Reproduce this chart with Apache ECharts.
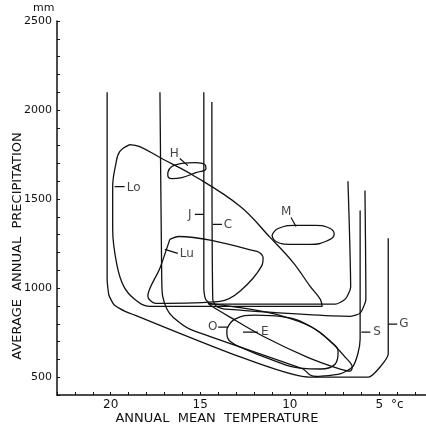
<!DOCTYPE html>
<html>
	<head>
		<meta charset="utf-8">
		<title></title>
		<script src='https://cdn.jsdelivr.net/npm/echarts@6/dist/echarts.min.js'></script>
		<style>
			body{ margin:0; background:#fff; }
			#chart{
				width: 426px;
				height: 428px;
			}
		</style>
	</head>
	<body>
		<div id="chart"></div>
		<script>
            // tick labels
            const xLabels = [20, 15, 10, 5];
            const yLabels = [500, 1000, 1500, 2000, 2500];

            // [annual mean temperature (°C), average annual precipitation (mm)]
            // open envelopes
            const curveG = [[20.2,2100],[20.2,1050],[20.1,960],[19.8,905],[19.2,870],[9.0,501],[5.6,500],[4.5,630],[4.5,1280]];
            const curveS = [[17.25,2100],[17.15,1050],[17.1,955],[16.85,880],[16.5,835],[15.58,770],[9.26,546],[8.86,512],[8.5,504],[7.2,518],[6.5,557],[6.2,630],[6.07,714],[6.07,1436]];
            const curveJ = [[14.8,2100],[14.8,994],[14.7,938],[14.35,910],[7.46,910],[6.9,938],[6.6,1005],[6.75,1600]];
            const curveC = [[14.35,2045],[14.3,938],[14.1,898],[13.6,882],[6.6,842],[6.07,860],[5.75,938],[5.75,994],[5.8,1548]];
            // closed ranges
            const blobLo = [[18.94,1806],[18.38,1795],[17.1,1725],[15.47,1638],[12.78,1460],[11.1,1285],[9.82,1145],[8.86,1010],[8.3,938],[8.19,898],[17.82,898],[18.66,938],[19.27,1010],[19.66,1134],[19.89,1330],[19.89,1570],[19.72,1694],[19.5,1766],[18.94,1806]];
            const blobLu = [[16.7,1274],[16.2,1290],[11.83,1206],[11.49,1173],[11.55,1128],[12.78,983],[13.9,926],[17.5,915],[17.93,954],[17.26,1110],[16.81,1240],[16.7,1274]];
            const ellipseH = [[16.81,1649],[16.59,1683],[16.03,1700],[15.3,1705],[14.74,1694],[14.68,1671],[15.24,1649],[16.03,1621],[16.59,1615],[16.81,1632],[16.81,1649]];
            const ellipseM = [[10.99,1296],[10.65,1335],[9.7,1352],[8.58,1352],[7.74,1335],[7.52,1302],[7.86,1268],[8.86,1246],[9.98,1246],[10.77,1262],[10.99,1296]];
            const ellipseO = [[13.51,770],[13.06,826],[11.94,848],[10.26,837],[8.86,786],[7.74,702],[7.3,641],[7.46,574],[8.3,546],[9.42,551],[11.1,602],[12.5,658],[13.34,702],[13.51,742],[13.51,770]];
            const blobE = [[14.57,915],[12.22,882],[10.37,842],[8.86,786],[7.74,702],[6.91,613],[6.51,557],[6.63,534],[7.35,551],[9.03,613],[11.49,730],[13.34,837],[14.35,898],[14.57,915]];

            // labels and their leader strokes
            const labelNames = ['Lo','H','J','C','Lu','M','O','E','S','G'];
            const labelAt = [[18.72,1565],[16.45,1752],[15.58,1414],[13.45,1358],[15.75,1190],[10.2,1430],[14.3,781],[11.4,753],[5.12,753],[3.62,798]];
            const leaders = [
                [[19.78,1570],[19.22,1570]],
                [[16.14,1728],[15.69,1688]],
                [[15.3,1414],[14.8,1414]],
                [[14.29,1358],[13.79,1358]],
                [[16.98,1218],[16.25,1195]],
                [[9.93,1397],[9.65,1346]],
                [[14.0,781],[13.45,781]],
                [[12.61,753],[11.77,753]],
                [[6.0,753],[5.5,753]],
                [[4.5,798],[4.0,798]]
            ];

			const chart = echarts.init(document.getElementById('chart'), null, {renderer:'canvas'});
            const ink = '#111';
            const font = 'DejaVu Sans';

            function outline(data, smooth){
                return {
                    type:'line',
                    data:data,
                    smooth:smooth,
                    symbol:'none',
                    silent:true,
                    lineStyle:{ color:ink, width:1.3 }
                };
            }

            const series = [
                outline(curveG, 0.15),
                outline(curveS, 0.2),
                outline(curveJ, 0.2),
                outline(curveC, 0.2),
                outline(blobLo, 0.4),
                outline(blobLu, 0.3),
                outline(ellipseH, 0.5),
                outline(ellipseM, 0.5),
                outline(ellipseO, 0.45),
                outline(blobE, 0.35)
            ];
            leaders.forEach(function(l){
                series.push({type:'line', data:l, symbol:'none', silent:true, lineStyle:{color:ink, width:1.2}});
            });
            series.push({
                type:'scatter',
                symbolSize:0,
                silent:true,
                data: labelNames.map(function(n, i){ return {name:n, value:labelAt[i]}; }),
                label:{
                    show:true,
                    position:'inside',
                    formatter:'{b}',
                    color:ink,
                    fontFamily:font,
                    fontSize:12
                }
            });

            const option = {
                animation:false,
                backgroundColor:'#fff',
                grid:{ left:57, right:-7, top:21, bottom:33, containLabel:false, outerBoundsMode:'none' },
                xAxis:{
                    type:'value',
                    inverse:true,
                    min:2,
                    max:23,
                    interval:1,
                    name:'ANNUAL  MEAN  TEMPERATURE',
                    nameLocation:'middle',
                    nameGap:17,
                    nameMoveOverlap:false,
                    nameTextStyle:{ color:ink, fontFamily:font, fontSize:13, padding:[0,56,0,0] },
                    axisLine:{ lineStyle:{ color:ink, width:1.5 } },
                    axisTick:{ inside:true, length:3, lineStyle:{ color:ink } },
                    axisLabel:{
                        color:ink, fontFamily:font, fontSize:12, margin:4,
                        formatter:function(v){
                            if(xLabels.indexOf(v) >= 0) return String(v);
                            if(v === 4) return '°c';
                            return '';
                        }
                    },
                    splitLine:{ show:false }
                },
                yAxis:{
                    type:'value',
                    min:400,
                    max:2500,
                    interval:100,
                    name:'AVERAGE  ANNUAL  PRECIPITATION',
                    nameLocation:'middle',
                    nameGap:33,
                    nameMoveOverlap:false,
                    nameTextStyle:{ color:ink, fontFamily:font, fontSize:13, padding:[0,76,0,0] },
                    axisLine:{ show:true, lineStyle:{ color:ink, width:1.5 } },
                    axisTick:{ inside:true, length:3, lineStyle:{ color:ink } },
                    axisLabel:{
                        color:ink, fontFamily:font, fontSize:11, margin:5,
                        formatter:function(v){ return yLabels.indexOf(v) >= 0 ? String(v) : ''; }
                    },
                    splitLine:{ show:false }
                },
                graphic:[{
                    type:'text',
                    left:33,
                    top:3,
                    style:{ text:'mm', fill:ink, font:'11px ' + font }
                }],
                series:series
            };
			chart.setOption(option);
		</script>
	</body>
</html>
